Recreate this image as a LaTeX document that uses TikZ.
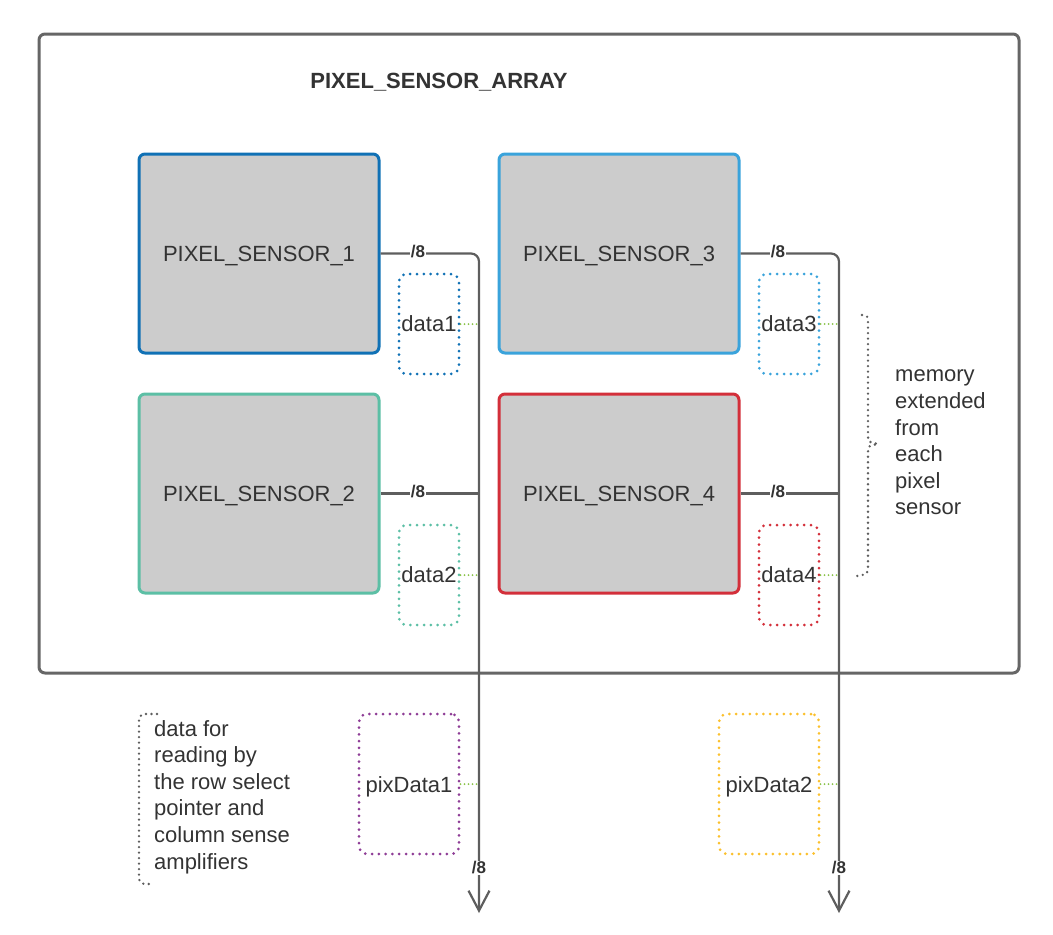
\documentclass[tikz,border=0pt]{standalone}
\usepackage{fontspec}
\setmainfont{Liberation Sans}
\usetikzlibrary{arrows.meta}
\definecolor{frame}{HTML}{666666}
\definecolor{busc}{HTML}{5E5E5E}
\definecolor{txt}{HTML}{333333}
\definecolor{psfill}{HTML}{CCCCCC}
\definecolor{cone}{HTML}{1071B5}
\definecolor{ctwo}{HTML}{5CBFA5}
\definecolor{cthree}{HTML}{3AA3DB}
\definecolor{cfour}{HTML}{D32F3A}
\definecolor{cpurple}{HTML}{8E3D96}
\definecolor{cyellow}{HTML}{FBC02D}
\definecolor{cgreen}{HTML}{8BC34A}
\begin{document}
\begin{tikzpicture}[x=1pt,y=-1pt,
  every node/.style={text=txt, font=\fontsize{22}{26.6}\selectfont},
  sensor/.style={draw, fill=psfill, line width=3pt, rounded corners=6pt,
    minimum width=240pt, minimum height=199pt, inner sep=0pt,
    text height=15.8pt, text depth=0pt},
  dbox/.style={draw, line width=3pt, dash pattern=on 0pt off 6.8pt, line cap=round,
    rounded corners=8pt, minimum width=60pt, minimum height=100pt, inner sep=0pt},
  pbox/.style={dbox, minimum width=100pt, minimum height=140pt,
    text height=16pt, text depth=0pt},
  bus/.style={draw=busc, line width=2.2pt, rounded corners=8pt},
  gdot/.style={draw=cgreen, line width=2pt, dash pattern=on 0pt off 4pt, line cap=round},
  graydot/.style={draw=busc, line width=2.6pt, dash pattern=on 0pt off 5.5pt, line cap=round},
  slash/.style={fill=white, inner sep=1pt, font=\bfseries\fontsize{17}{20}\selectfont},
  arrowtip/.style={-{Straight Barb[length=20pt,width=21pt,line width=2.2pt]}}
]
\useasboundingbox (0,0) rectangle (1053,935);

% outer frame
\node[draw=frame, line width=3pt, rounded corners=6pt, minimum width=980pt,
  minimum height=639pt, inner sep=0pt] (frm) at (529,353.5) {};
\node[font=\bfseries\fontsize{22}{26.4}\selectfont, text height=15.8pt, text depth=0pt,
  inner sep=0pt] (title) at (439,81) {PIXEL\_SENSOR\_ARRAY};

% sensors
\node[sensor, draw=cone] (ps1) at (259,253.5) {PIXEL\_SENSOR\_1};
\node[sensor, draw=cthree] (ps3) at (619,253.5) {PIXEL\_SENSOR\_3};
\node[sensor, draw=ctwo] (ps2) at (259,493.5) {PIXEL\_SENSOR\_2};
\node[sensor, draw=cfour] (ps4) at (619,493.5) {PIXEL\_SENSOR\_4};

% data boxes
\node[dbox, draw=cone] (d1) at (429,324) {data1};
\node[dbox, draw=ctwo] (d2) at (429,575) {data2};
\node[dbox, draw=cthree] (d3) at (789,324) {data3};
\node[dbox, draw=cfour] (d4) at (789,575) {data4};
\node[pbox, draw=cpurple] (p1) at (409,784) {pixData1};
\node[pbox, draw=cyellow] (p2) at (769,784) {pixData2};

% bus ends
\coordinate (e1) at (479,913);
\coordinate (e2) at (839,913);

\draw[bus, arrowtip] (ps1.east) -| (e1);
\draw[bus, arrowtip] (ps3.east) -| (e2);
\draw[bus] (ps2.east) -- (ps2.east -| e1);
\draw[bus] (ps4.east) -- (ps4.east -| e2);

% green dotted links
\draw[gdot] (d1.east) -- (d1.east -| e1);
\draw[gdot] (d2.east) -- (d2.east -| e1);
\draw[gdot] (p1.east) -- (p1.east -| e1);
\draw[gdot] (d3.east) -- (d3.east -| e2);
\draw[gdot] (d4.east) -- (d4.east -| e2);
\draw[gdot] (p2.east) -- (p2.east -| e2);

% /8 labels
\node[slash] (s1) at (418,252) {/8};
\node[slash] (s2) at (418,492) {/8};
\node[slash] (s3) at (778,252) {/8};
\node[slash] (s4) at (778,492) {/8};
\node[slash] (s5) at (479,868) {/8};
\node[slash] (s6) at (839,868) {/8};

% brace for memory
\coordinate (bt) at (862,315);
\coordinate (bb) at (857,576);
\draw[graydot] (bt) .. controls (868,316) .. (868,324) -- (868,436)
  .. controls (868,442) .. (878,444) .. controls (868,446) .. (868,452)
  -- (868,566) .. controls (868,574) .. (bb);
\node[anchor=west, align=left, inner sep=0pt] (mem) at (895,442.5)
  {memory\\extended\\from\\each\\pixel\\sensor};

% bracket for data reading
\coordinate (lt) at (157,714);
\coordinate (lb) at (152,884);
\draw[graydot, rounded corners=6pt] (lt) -- (139,714) -- (139,884) -- (lb);
\node[anchor=west, align=left, inner sep=0pt] (rd) at (154,797)
  {data for\\reading by\\the row select\\pointer and\\column sense\\amplifiers};
\end{tikzpicture}
\end{document}
